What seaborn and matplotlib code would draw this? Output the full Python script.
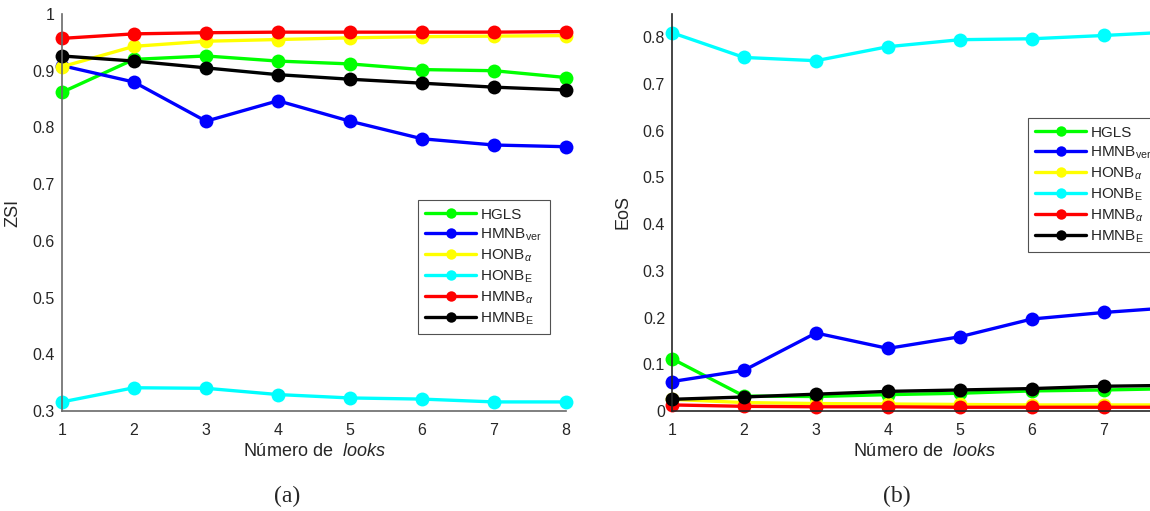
import numpy as np
import pandas as pd
import matplotlib
matplotlib.use("Agg")
import matplotlib.pyplot as plt
import seaborn as sns

sns.set_style("white")
plt.rcParams["font.family"] = ["Liberation Sans", "DejaVu Sans"]
plt.rcParams["mathtext.fontset"] = "custom"
plt.rcParams["mathtext.rm"] = "Liberation Sans"
plt.rcParams["mathtext.it"] = "Liberation Sans:italic"
plt.rcParams["mathtext.sf"] = "Liberation Sans"

looks = [1, 2, 3, 4, 5, 6, 7, 8]
methods = ["HGLS", "HMNB_ver", "HONB_alpha", "HONB_E", "HMNB_alpha", "HMNB_E"]
legend_labels = ["HGLS", r"HMNB$_{\mathrm{ver}}$", r"HONB$_{\alpha}$",
                 r"HONB$_{\mathrm{E}}$", r"HMNB$_{\alpha}$", r"HMNB$_{\mathrm{E}}$"]
colors = ["#00ff00", "#0000ff", "#ffff00", "#00ffff", "#ff0000", "#000000"]

# ZSI per method
zsi_hgls = [0.862, 0.920, 0.926, 0.917, 0.912, 0.902, 0.900, 0.888]
zsi_hmnb_ver = [0.909, 0.880, 0.811, 0.847, 0.811, 0.780, 0.769, 0.766]
zsi_honb_alpha = [0.907, 0.943, 0.952, 0.955, 0.958, 0.960, 0.961, 0.962]
zsi_honb_e = [0.316, 0.341, 0.340, 0.329, 0.323, 0.321, 0.316, 0.316]
zsi_hmnb_alpha = [0.957, 0.965, 0.967, 0.968, 0.968, 0.968, 0.968, 0.969]
zsi_hmnb_e = [0.926, 0.917, 0.905, 0.893, 0.885, 0.878, 0.871, 0.866]

# EoS per method
eos_hgls = [0.112, 0.032, 0.031, 0.035, 0.038, 0.043, 0.045, 0.048]
eos_hmnb_ver = [0.063, 0.087, 0.167, 0.134, 0.159, 0.197, 0.211, 0.222]
eos_honb_alpha = [0.025, 0.018, 0.016, 0.015, 0.014, 0.013, 0.013, 0.013]
eos_honb_e = [0.810, 0.757, 0.750, 0.780, 0.795, 0.797, 0.804, 0.812]
eos_hmnb_alpha = [0.013, 0.010, 0.009, 0.009, 0.008, 0.008, 0.008, 0.008]
eos_hmnb_e = [0.025, 0.030, 0.036, 0.042, 0.045, 0.048, 0.053, 0.055]

zsi = [zsi_hgls, zsi_hmnb_ver, zsi_honb_alpha, zsi_honb_e, zsi_hmnb_alpha, zsi_hmnb_e]
eos = [eos_hgls, eos_hmnb_ver, eos_honb_alpha, eos_honb_e, eos_hmnb_alpha, eos_hmnb_e]


def long_frame(series):
    rows = []
    for m, vals in zip(methods, series):
        for x, v in zip(looks, vals):
            rows.append({"looks": x, "value": v, "method": m})
    return pd.DataFrame(rows)


fig = plt.figure(figsize=(11.5, 5.11), dpi=100)
ax_a = fig.add_axes([0.0539, 0.1957, 0.4383, 0.7769])
# panel (b) runs past the right edge of the figure
ax_b = fig.add_axes([0.5843, 0.1957, 0.4383, 0.7769])

palette = dict(zip(methods, colors))


def draw(ax, series, ylim, yticks, ylabel, spine_color, legend_anchor, xticklabels):
    df = long_frame(series)
    sns.lineplot(data=df, x="looks", y="value", hue="method", hue_order=methods,
                 palette=palette, marker="o", markersize=10, markeredgewidth=0,
                 linewidth=2.4, legend=False, ax=ax, errorbar=None)
    for ln in ax.lines:
        ln.set_clip_on(False)
    ax.set_xlim(1, 8)
    ax.set_ylim(*ylim)
    ax.set_xticks(looks)
    ax.set_xticklabels(xticklabels)
    ax.set_yticks(yticks)
    ax.set_yticklabels([("%g" % t) for t in yticks])
    ax.set_xlabel("Número de  $\\mathit{looks}$", fontsize=13, color="#262626", labelpad=3)
    ax.set_ylabel(ylabel, fontsize=13, color="#262626", labelpad=8)
    ax.tick_params(axis="both", direction="in", length=5, width=1, colors=spine_color,
                   labelcolor="#262626", labelsize=11.5)
    ax.tick_params(axis="x", pad=9)
    ax.tick_params(axis="y", pad=5)
    for s in ["top", "right"]:
        ax.spines[s].set_visible(False)
    for s in ["left", "bottom"]:
        ax.spines[s].set_color(spine_color)
        ax.spines[s].set_linewidth(1.2)
    leg = ax.legend(handles=list(ax.lines[:len(methods)]), labels=legend_labels,
                    loc="upper left", bbox_to_anchor=legend_anchor, numpoints=1,
                    markerscale=0.75, handlelength=3.3, handletextpad=0.3,
                    labelspacing=0.3, fontsize=11, frameon=True, fancybox=False,
                    borderpad=0.5, borderaxespad=0)
    leg.get_frame().set_edgecolor("#262626")
    leg.get_frame().set_linewidth(0.8)


draw(ax_a, zsi, (0.3, 1.0), [0.3, 0.4, 0.5, 0.6, 0.7, 0.8, 0.9, 1.0], "ZSI",
     "#6a6a6a", (0.706, 0.531), [str(v) for v in looks])
draw(ax_b, eos, (0.0, 0.85), [0, 0.1, 0.2, 0.3, 0.4, 0.5, 0.6, 0.7, 0.8], "EoS",
     "#262626", (0.706, 0.738), [str(v) for v in looks[:-1]] + [""])

fig.text(0.2496, 0.028, "(a)", fontsize=17, family="Liberation Serif", ha="center", va="center")
fig.text(0.780, 0.028, "(b)", fontsize=17, family="Liberation Serif", ha="center", va="center")

fig.savefig("out.png", dpi=100)
